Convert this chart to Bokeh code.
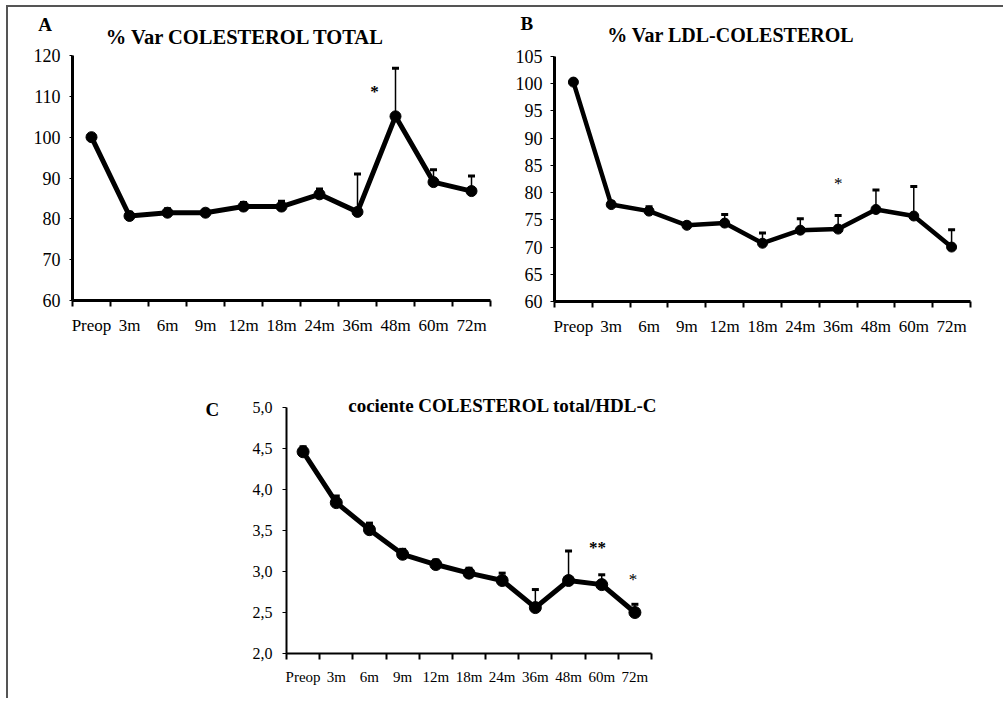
from bokeh.plotting import figure
from bokeh.layouts import row, column, Spacer
from bokeh.models import FixedTicker, Label, ColumnDataSource, Range1d
from bokeh.embed import file_html
from bokeh.resources import INLINE

categories = ["Preop", "3m", "6m", "9m", "12m", "18m", "24m", "36m", "48m", "60m", "72m"]

# Panel A: % Var COLESTEROL TOTAL (mean and upper end of error bar)
col_total = [100.0, 80.7, 81.5, 81.5, 83.0, 83.0, 86.0, 81.7, 105.1, 89.0, 86.8]
col_total_upper = [100.4, 81.6, 82.5, 82.2, 84.0, 84.3, 87.3, 91.0, 116.9, 92.0, 90.5]
yticks_a = [60, 70, 80, 90, 100, 110, 120]

# Panel B: % Var LDL-COLESTEROL
ldl = [100.3, 77.8, 76.6, 74.0, 74.4, 70.7, 73.1, 73.3, 76.9, 75.7, 70.0]
ldl_upper = [100.5, 78.3, 77.4, 74.5, 76.0, 72.6, 75.2, 75.8, 80.5, 81.1, 73.2]
yticks_b = [60, 65, 70, 75, 80, 85, 90, 95, 100, 105]

# Panel C: cociente COLESTEROL total/HDL-C
ratio = [4.46, 3.84, 3.51, 3.21, 3.085, 2.98, 2.89, 2.56, 2.89, 2.84, 2.50]
ratio_upper = [4.52, 3.92, 3.59, 3.27, 3.14, 3.04, 2.98, 2.78, 3.25, 2.96, 2.60]
yticks_c = [2.0, 2.5, 3.0, 3.5, 4.0, 4.5, 5.0]

FONT = "Liberation Serif"


def make_panel(values, upper, yticks, fig_box, axes_box, axis_w, ytick_out, ystandoff,
               line_w, marker_size, xfont, yfont, comma=False):
    """fig_box = (x0, x1, y0, y1) in page px; axes_box = (left, right, top, bottom) in page px."""
    n = len(categories)
    fx0, fx1, fy0, fy1 = fig_box
    ax0, ax1, aty, aby = axes_box
    xpx = (ax1 - ax0) / n
    ypx = (aby - aty) / (yticks[-1] - yticks[0])
    x_start = (fx0 - ax0) / xpx
    x_end = (fx1 - ax0) / xpx
    y_start = yticks[0] - (fy1 - aby) / ypx
    y_end = yticks[0] + (aby - fy0) / ypx

    xs = [i + 0.5 for i in range(n)]
    src = ColumnDataSource(dict(x=xs, y=values, up=upper, cat=categories))
    p = figure(width=fx1 - fx0, height=fy1 - fy0, output_backend="svg", toolbar_location=None,
               x_range=Range1d(x_start, x_end), y_range=Range1d(y_start, y_end),
               min_border_left=0, min_border_right=0, min_border_top=0, min_border_bottom=0)
    p.outline_line_color = None
    p.xgrid.visible = False
    p.ygrid.visible = False
    p.background_fill_color = "white"
    p.border_fill_color = "white"

    # error bars (upper only)
    p.segment(x0="x", y0="y", x1="x", y1="up", source=src, line_color="black", line_width=1.5)
    p.scatter(x="x", y="up", source=src, marker="dash", size=7, line_color="black", line_width=3)
    # mean line + markers
    p.line(x="x", y="y", source=src, line_color="black", line_width=line_w)
    p.scatter(x="x", y="y", source=src, marker="circle", size=marker_size,
              fill_color="black", line_color="black")

    xa = p.xaxis[0]
    xa.fixed_location = yticks[0]
    xa.bounds = (0, n)
    xa.ticker = FixedTicker(ticks=xs, minor_ticks=list(range(n + 1)))
    xa.major_label_overrides = {x: c for x, c in zip(xs, categories)}
    xa.major_tick_out = 0
    xa.major_tick_in = 0
    xa.minor_tick_out = 6
    xa.minor_tick_in = 0
    xa.minor_tick_line_width = 2
    xa.minor_tick_line_color = "black"
    xa.axis_line_width = axis_w
    xa.axis_line_color = "black"
    xa.major_label_standoff = 9
    xa.major_label_text_font = FONT
    xa.major_label_text_font_size = xfont
    xa.major_label_text_color = "black"

    ya = p.yaxis[0]
    ya.fixed_location = 0
    ya.bounds = (yticks[0], yticks[-1])
    ya.ticker = FixedTicker(ticks=yticks)
    if comma:
        ya.major_label_overrides = {(int(t) if float(t).is_integer() else t): f"{t:.1f}".replace(".", ",")
                                    for t in yticks}
    ya.major_tick_out = ytick_out
    ya.major_tick_in = 0
    ya.major_tick_line_width = 1
    ya.minor_tick_out = 0
    ya.minor_tick_in = 0
    ya.axis_line_width = axis_w
    ya.axis_line_color = "black"
    ya.major_label_standoff = ystandoff
    ya.major_label_text_font = FONT
    ya.major_label_text_font_size = yfont
    ya.major_label_text_color = "black"
    return p


def add_text(p, x, y, text, size, bold=True, align="center", baseline="alphabetic"):
    p.add_layout(Label(x=x, y=y, text=text, text_font=FONT, text_font_size=size,
                       text_font_style="bold" if bold else "normal", text_align=align,
                       text_baseline=baseline, text_color="black"))


pa = make_panel(col_total, col_total_upper, yticks_a, (8, 505, 7, 340), (72, 490, 55, 300),
                3, 3, 9, 5, 11, "17px", "18px")
add_text(pa, 4.55, 124.6, "% Var COLESTEROL TOTAL", "20.5px")
add_text(pa, -0.9, 127.6, "A", "19px", align="left")
add_text(pa, 7.95, 111.1, "*", "17px", baseline="middle")

pb = make_panel(ldl, ldl_upper, yticks_b, (505, 1003, 7, 340), (554, 970, 56, 301),
                3, 4, 8, 4.5, 10, "17px", "18px")
add_text(pb, 4.66, 108.9, "% Var LDL-COLESTEROL", "20px")
add_text(pb, -0.9, 111.1, "B", "19px", align="left")
add_text(pb, 7.5, 81.65, "*", "17px", bold=False, baseline="middle")

pc = make_panel(ratio, ratio_upper, yticks_c, (200, 711, 340, 698), (286, 651, 407, 653),
                2, 4, 10, 5, 12, "15px", "16px", comma=True)
add_text(pc, 6.52, 5.025, "cociente COLESTEROL total/HDL-C", "19px")
add_text(pc, -2.44, 4.975, "C", "19px", align="left")
add_text(pc, 9.37, 3.297, "**", "17px", baseline="middle")
add_text(pc, 10.44, 2.907, "*", "17px", bold=False, baseline="middle")

inner = column(row(pa, pb), row(Spacer(width=192, height=358), pc),
               styles={"border-top": "2px solid #555555", "border-left": "2px solid #555555"})
layout = column(Spacer(width=10, height=5), row(Spacer(width=6, height=10), inner))

open("out.html", "w").write(file_html(layout, INLINE))
